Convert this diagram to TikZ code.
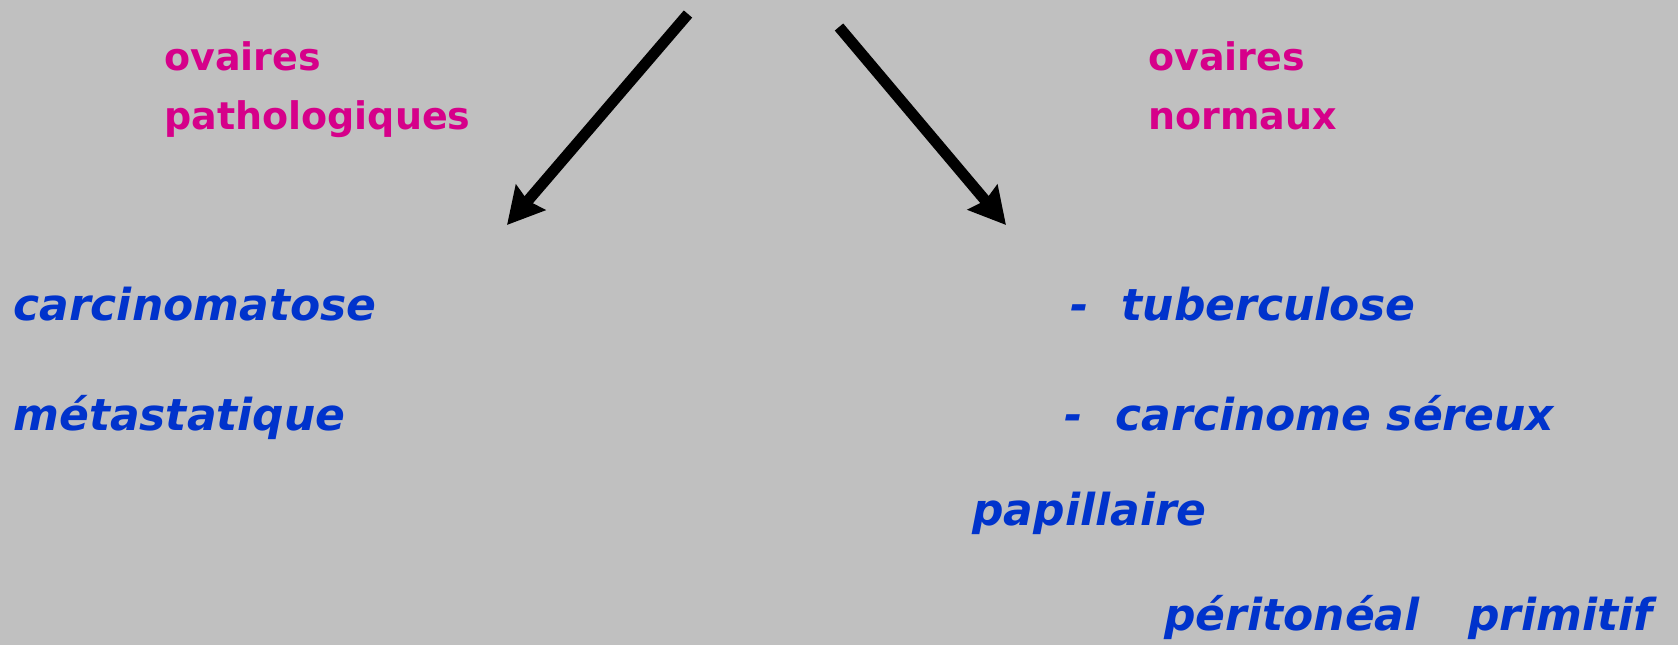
\documentclass[tikz,border=0pt]{standalone}
\usepackage{fontspec}
\setmainfont{DejaVu Sans}
\usepackage{tikz}
\usetikzlibrary{arrows.meta, positioning}
\usepackage{xcolor}
\definecolor{slidegray}{RGB}{192,192,192}
\definecolor{titlepink}{RGB}{214,0,138}
\definecolor{itemblue}{RGB}{0,51,204}
\tikzset{
  basetext/.style={anchor=base west, inner sep=0pt, align=left},
  headtext/.style={basetext, text=titlepink, font=\fontsize{19}{29.5}\selectfont\bfseries},
  itemtext/.style={basetext, text=itemblue, font=\fontsize{22}{29}\selectfont\bfseries\itshape},
  bigarrow/.style={-{Stealth[length=18pt, width=19pt, inset=2pt]}, line width=5.5pt, color=black}
}
\begin{document}
\begin{tikzpicture}[x=0.5pt, y=-0.5pt]
  \fill[slidegray] (0,0) rectangle (1678,645);
  \useasboundingbox (0,0) rectangle (1678,645);

  % headings
  \node[headtext] (patho) at (164,129) {ovaires\\pathologiques};
  \node[headtext] (normal) at (1148,129) {ovaires\\normaux};

  % left column
  \node[itemtext] (carcino) at (13,320) {carcinomatose};
  \node[itemtext] (meta) at (13,430) {métastatique};

  % right column
  \node[itemtext] (tuber) at (1070,320) {-\hspace{0.75em}tuberculose};
  \node[itemtext] (sereux) at (1064,430) {-\hspace{0.75em}carcinome séreux};
  \node[itemtext] (papil) at (972,525) {papillaire};
  \node[itemtext] (perito) at (1164,630) {péritonéal\hspace{1.1em}primitif};

  % arrows
  \coordinate (leftstart) at (688,14);
  \coordinate (lefttip) at (507,225);
  \coordinate (rightstart) at (839,27);
  \coordinate (righttip) at (1006,225);
  \draw[bigarrow] (leftstart)--(lefttip);
  \draw[bigarrow] (rightstart)--(righttip);
\end{tikzpicture}
\end{document}
